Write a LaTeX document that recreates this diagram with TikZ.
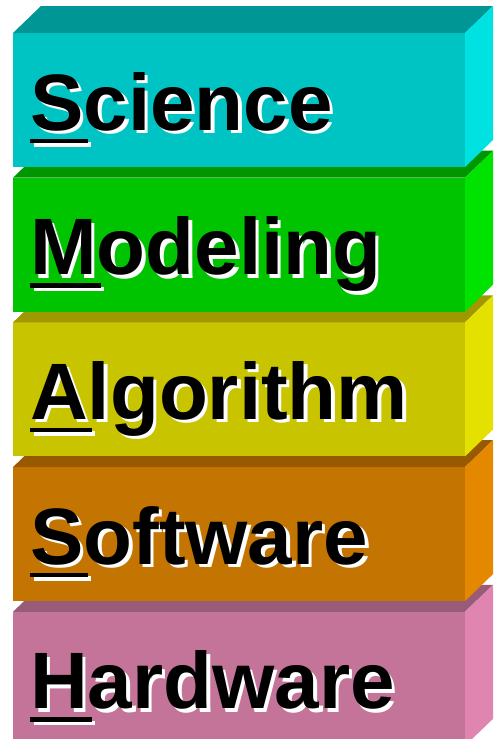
\documentclass[tikz,border=0pt]{standalone}
\usepackage{fontspec}
\setmainfont{Liberation Sans}
\usetikzlibrary{calc}

% front / top / right colours of each layer
\definecolor{sciF}{RGB}{0,196,196}
\definecolor{sciT}{RGB}{0,150,150}
\definecolor{sciR}{RGB}{0,226,226}
\definecolor{modF}{RGB}{0,196,0}
\definecolor{modT}{RGB}{0,150,0}
\definecolor{modR}{RGB}{0,226,0}
\definecolor{algF}{RGB}{200,196,0}
\definecolor{algT}{RGB}{160,152,0}
\definecolor{algR}{RGB}{228,224,0}
\definecolor{swF}{RGB}{196,116,0}
\definecolor{swT}{RGB}{152,90,0}
\definecolor{swR}{RGB}{228,136,0}
\definecolor{hwF}{RGB}{196,116,152}
\definecolor{hwT}{RGB}{152,92,120}
\definecolor{hwR}{RGB}{224,132,176}

\tikzset{
  front/.style={draw=none, inner sep=0pt, outer sep=0pt, minimum width=452pt,
    minimum height=134pt, anchor=north west},
  word/.style={inner sep=0pt, anchor=base west,
    font=\fontsize{80}{90}\selectfont\bfseries},
}

% first letter underlined
\newcommand{\firstul}[1]{\setbox0\hbox{#1}\rlap{\rule[-13pt]{\dimexpr\wd0+4pt\relax}{4.5pt}}\box0}

\begin{document}
\begin{tikzpicture}[x=1pt,y=1pt]
    \useasboundingbox (0,0) rectangle (493,-739);

    % Layers, drawn from the bottom one up
    \foreach \i/\lay/\first/\rest in {5/hw/H/ardware, 4/sw/S/oftware, 3/alg/A/lgorithm,
                                     2/mod/M/odeling, 1/sci/S/cience} {
        \node[front, fill=\lay F] (\lay) at (13,{-33-144.7*(\i-1)}) {};
        % top and right faces
        \fill[\lay T] (\lay.north west) -- ++(28,27) -- ($(\lay.north east)+(28,27)$)
            -- (\lay.north east) -- cycle;
        \fill[\lay R] (\lay.north east) -- ++(28,27) -- ($(\lay.south east)+(28,27)$)
            -- (\lay.south east) -- cycle;
        % label with white shadow
        \node[word, white] (\lay-sh) at ($(\lay.north west)+(20.5,-100.5)$) {\firstul{\first}\rest};
        \node[word] (\lay-txt) at ($(\lay.north west)+(17,-97)$) {\firstul{\first}\rest};
    }
\end{tikzpicture}
\end{document}
